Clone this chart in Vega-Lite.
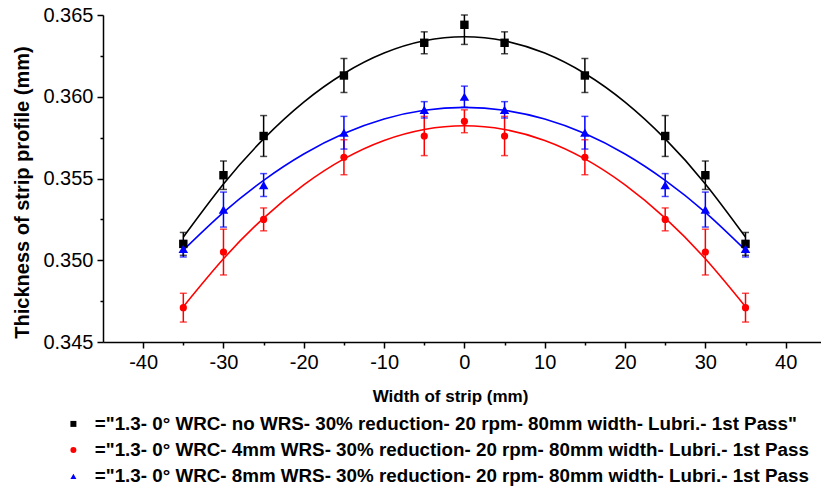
{
  "$schema": "https://vega.github.io/schema/vega-lite/v6.json",
  "width": 718,
  "height": 327,
  "autosize": {"type": "none"},
  "padding": {"left": 103, "top": 15, "right": 0, "bottom": 153},
  "background": "white",
  "config": {
    "view": {"stroke": null},
    "axis": {
      "domainColor": "black", "domainWidth": 1.5,
      "tickColor": "black", "tickWidth": 1.5,
      "labelColor": "black", "labelFont": "Liberation Sans", "labelFontSize": 20,
      "titleFont": "Liberation Sans", "titleFontWeight": "bold", "titleColor": "black",
      "grid": false
    }
  },
  "datasets": {
    "pts": [
      {"s": "no WRS", "x": -35, "y": 0.3510, "lo": 0.3503, "hi": 0.3517},
      {"s": "no WRS", "x": -30, "y": 0.3552, "lo": 0.35433, "hi": 0.35607},
      {"s": "no WRS", "x": -25, "y": 0.3576, "lo": 0.35635, "hi": 0.35885},
      {"s": "no WRS", "x": -15, "y": 0.3613, "lo": 0.36026, "hi": 0.36234},
      {"s": "no WRS", "x": -5, "y": 0.3633, "lo": 0.36263, "hi": 0.36397},
      {"s": "no WRS", "x": 0, "y": 0.3644, "lo": 0.3632, "hi": 0.3650},
      {"s": "no WRS", "x": 5, "y": 0.3633, "lo": 0.36263, "hi": 0.36397},
      {"s": "no WRS", "x": 15, "y": 0.3613, "lo": 0.36026, "hi": 0.36234},
      {"s": "no WRS", "x": 25, "y": 0.3576, "lo": 0.35635, "hi": 0.35885},
      {"s": "no WRS", "x": 30, "y": 0.3552, "lo": 0.35433, "hi": 0.35607},
      {"s": "no WRS", "x": 35, "y": 0.3510, "lo": 0.3503, "hi": 0.3517},
      {"s": "4mm WRS", "x": -35, "y": 0.3471, "lo": 0.34622, "hi": 0.34798},
      {"s": "4mm WRS", "x": -30, "y": 0.3505, "lo": 0.3491, "hi": 0.3519},
      {"s": "4mm WRS", "x": -25, "y": 0.3525, "lo": 0.3518, "hi": 0.3532},
      {"s": "4mm WRS", "x": -15, "y": 0.3563, "lo": 0.35523, "hi": 0.35737},
      {"s": "4mm WRS", "x": -5, "y": 0.3576, "lo": 0.3564, "hi": 0.3588},
      {"s": "4mm WRS", "x": 0, "y": 0.3585, "lo": 0.3578, "hi": 0.3592},
      {"s": "4mm WRS", "x": 5, "y": 0.3576, "lo": 0.3564, "hi": 0.3588},
      {"s": "4mm WRS", "x": 15, "y": 0.3563, "lo": 0.35523, "hi": 0.35737},
      {"s": "4mm WRS", "x": 25, "y": 0.3525, "lo": 0.3518, "hi": 0.3532},
      {"s": "4mm WRS", "x": 30, "y": 0.3505, "lo": 0.3491, "hi": 0.3519},
      {"s": "4mm WRS", "x": 35, "y": 0.3471, "lo": 0.34622, "hi": 0.34798},
      {"s": "8mm WRS", "x": -35, "y": 0.3507, "lo": 0.3502, "hi": 0.3512},
      {"s": "8mm WRS", "x": -30, "y": 0.3531, "lo": 0.35203, "hi": 0.35417},
      {"s": "8mm WRS", "x": -25, "y": 0.3546, "lo": 0.3539, "hi": 0.3553},
      {"s": "8mm WRS", "x": -15, "y": 0.3578, "lo": 0.3568, "hi": 0.3588},
      {"s": "8mm WRS", "x": -5, "y": 0.3592, "lo": 0.3587, "hi": 0.3597},
      {"s": "8mm WRS", "x": 0, "y": 0.3600, "lo": 0.35935, "hi": 0.36065},
      {"s": "8mm WRS", "x": 5, "y": 0.3592, "lo": 0.3587, "hi": 0.3597},
      {"s": "8mm WRS", "x": 15, "y": 0.3578, "lo": 0.3568, "hi": 0.3588},
      {"s": "8mm WRS", "x": 25, "y": 0.3546, "lo": 0.3539, "hi": 0.3553},
      {"s": "8mm WRS", "x": 30, "y": 0.3531, "lo": 0.35203, "hi": 0.35417},
      {"s": "8mm WRS", "x": 35, "y": 0.3507, "lo": 0.3502, "hi": 0.3512}
    ],
    "fit": [
      {"s": "no WRS", "x": -35, "y": 0.35142},
      {"s": "no WRS", "x": -30, "y": 0.35467},
      {"s": "no WRS", "x": -25, "y": 0.35742},
      {"s": "no WRS", "x": -20, "y": 0.35967},
      {"s": "no WRS", "x": -15, "y": 0.36142},
      {"s": "no WRS", "x": -10, "y": 0.36267},
      {"s": "no WRS", "x": -5, "y": 0.36342},
      {"s": "no WRS", "x": 0, "y": 0.36367},
      {"s": "no WRS", "x": 5, "y": 0.36342},
      {"s": "no WRS", "x": 10, "y": 0.36267},
      {"s": "no WRS", "x": 15, "y": 0.36142},
      {"s": "no WRS", "x": 20, "y": 0.35967},
      {"s": "no WRS", "x": 25, "y": 0.35742},
      {"s": "no WRS", "x": 30, "y": 0.35467},
      {"s": "no WRS", "x": 35, "y": 0.35142},
      {"s": "4mm WRS", "x": -35, "y": 0.34716},
      {"s": "4mm WRS", "x": -30, "y": 0.35009},
      {"s": "4mm WRS", "x": -25, "y": 0.35258},
      {"s": "4mm WRS", "x": -20, "y": 0.35461},
      {"s": "4mm WRS", "x": -15, "y": 0.35620},
      {"s": "4mm WRS", "x": -10, "y": 0.35733},
      {"s": "4mm WRS", "x": -5, "y": 0.35800},
      {"s": "4mm WRS", "x": 0, "y": 0.35823},
      {"s": "4mm WRS", "x": 5, "y": 0.35800},
      {"s": "4mm WRS", "x": 10, "y": 0.35733},
      {"s": "4mm WRS", "x": 15, "y": 0.35620},
      {"s": "4mm WRS", "x": 20, "y": 0.35461},
      {"s": "4mm WRS", "x": 25, "y": 0.35258},
      {"s": "4mm WRS", "x": 30, "y": 0.35009},
      {"s": "4mm WRS", "x": 35, "y": 0.34716},
      {"s": "8mm WRS", "x": -35, "y": 0.35062},
      {"s": "8mm WRS", "x": -30, "y": 0.35293},
      {"s": "8mm WRS", "x": -25, "y": 0.35489},
      {"s": "8mm WRS", "x": -20, "y": 0.35650},
      {"s": "8mm WRS", "x": -15, "y": 0.35775},
      {"s": "8mm WRS", "x": -10, "y": 0.35864},
      {"s": "8mm WRS", "x": -5, "y": 0.35917},
      {"s": "8mm WRS", "x": 0, "y": 0.35935},
      {"s": "8mm WRS", "x": 5, "y": 0.35917},
      {"s": "8mm WRS", "x": 10, "y": 0.35864},
      {"s": "8mm WRS", "x": 15, "y": 0.35775},
      {"s": "8mm WRS", "x": 20, "y": 0.35650},
      {"s": "8mm WRS", "x": 25, "y": 0.35489},
      {"s": "8mm WRS", "x": 30, "y": 0.35293},
      {"s": "8mm WRS", "x": 35, "y": 0.35062}
    ]
  },
  "layer": [
    {
      "data": {"name": "fit"},
      "mark": {"type": "line", "interpolate": "natural", "strokeWidth": 1.6},
      "encoding": {
        "x": {
          "field": "x", "type": "quantitative",
          "scale": {"domain": [-45, 44.4], "nice": false, "zero": false},
          "axis": {
            "title": "Width of strip (mm)",
            "titleFontSize": 17,
            "titleX": 347, "titleY": 54, "titleAlign": "center", "titleBaseline": "middle",
            "values": [-40, -35, -30, -25, -20, -15, -10, -5, 0, 5, 10, 15, 20, 25, 30, 35, 40],
            "labelExpr": "datum.value % 10 == 0 ? '' + datum.value : ''",
            "tickSize": {"condition": {"test": "datum.value % 10 == 0", "value": 6}, "value": 3},
            "labelPadding": 4,
            "labelFlush": false, "labelOverlap": false
          }
        },
        "y": {
          "field": "y", "type": "quantitative",
          "scale": {"domain": [0.345, 0.365], "nice": false, "zero": false},
          "axis": {
            "title": "Thickness of strip profile (mm)",
            "titleFontSize": 20,
            "titleX": -81, "titleY": 177, "titleAlign": "center", "titleBaseline": "middle", "titleAngle": -90,
            "values": [0.345, 0.3475, 0.35, 0.3525, 0.355, 0.3575, 0.36, 0.3625, 0.365],
            "labelExpr": "round(datum.value * 10000) % 50 == 0 ? format(datum.value, '.3f') : ''",
            "tickSize": {"condition": {"test": "round(datum.value * 10000) % 50 == 0", "value": 6}, "value": 3},
            "labelPadding": 4,
            "labelFlush": false, "labelOverlap": false
          }
        },
        "stroke": {
          "field": "s", "type": "nominal", "legend": null,
          "scale": {"domain": ["8mm WRS", "4mm WRS", "no WRS"], "range": ["#0000ff", "#ff0000", "#000000"]}
        }
      }
    },
    {
      "data": {"name": "pts"},
      "mark": {"type": "rule", "strokeWidth": 1.5},
      "encoding": {
        "x": {"field": "x", "type": "quantitative"},
        "y": {"field": "lo", "type": "quantitative"},
        "y2": {"field": "hi"},
        "stroke": {"field": "s", "type": "nominal", "legend": null}
      }
    },
    {
      "data": {"name": "pts"},
      "mark": {"type": "tick", "orient": "horizontal", "size": 7, "thickness": 1.5},
      "encoding": {
        "x": {"field": "x", "type": "quantitative"},
        "y": {"field": "lo", "type": "quantitative"},
        "fill": {"field": "s", "type": "nominal", "legend": null,
          "scale": {"domain": ["4mm WRS", "8mm WRS", "no WRS"], "range": ["#ff0000", "#0000ff", "#000000"]}}
      }
    },
    {
      "data": {"name": "pts"},
      "mark": {"type": "tick", "orient": "horizontal", "size": 7, "thickness": 1.5},
      "encoding": {
        "x": {"field": "x", "type": "quantitative"},
        "y": {"field": "hi", "type": "quantitative"},
        "fill": {"field": "s", "type": "nominal", "legend": null}
      }
    },
    {
      "data": {"name": "pts"},
      "mark": {"type": "point", "filled": true, "opacity": 1, "strokeWidth": 0},
      "encoding": {
        "x": {"field": "x", "type": "quantitative"},
        "y": {"field": "y", "type": "quantitative"},
        "color": {
          "field": "s", "type": "nominal",
          "scale": {"domain": ["no WRS", "4mm WRS", "8mm WRS"], "range": ["#000000", "#ff0000", "#0000ff"]},
          "legend": {
            "title": null, "orient": "none", "legendX": -39, "legendY": 399.5, "padding": 0,
            "symbolSize": 36, "symbolStrokeWidth": 0,
            "labelFont": "Liberation Sans", "labelFontSize": 18.8, "labelFontWeight": "bold", "labelColor": "black",
            "labelOffset": 12, "rowPadding": 6.2, "labelLimit": 0,
            "labelExpr": "datum.label == 'no WRS' ? '=\"1.3- 0° WRC- no WRS- 30% reduction- 20 rpm- 80mm width- Lubri.- 1st Pass\"' : '=\"1.3- 0° WRC- ' + datum.label + '- 30% reduction- 20 rpm- 80mm width- Lubri.- 1st Pass'"
          }
        },
        "shape": {
          "field": "s", "type": "nominal",
          "scale": {"domain": ["no WRS", "4mm WRS", "8mm WRS"], "range": ["square", "circle", "triangle-up"]}
        },
        "size": {
          "field": "s", "type": "nominal", "legend": null,
          "scale": {"domain": ["8mm WRS", "no WRS", "4mm WRS"], "range": [90, 52, 85]}
        }
      }
    }
  ]
}
